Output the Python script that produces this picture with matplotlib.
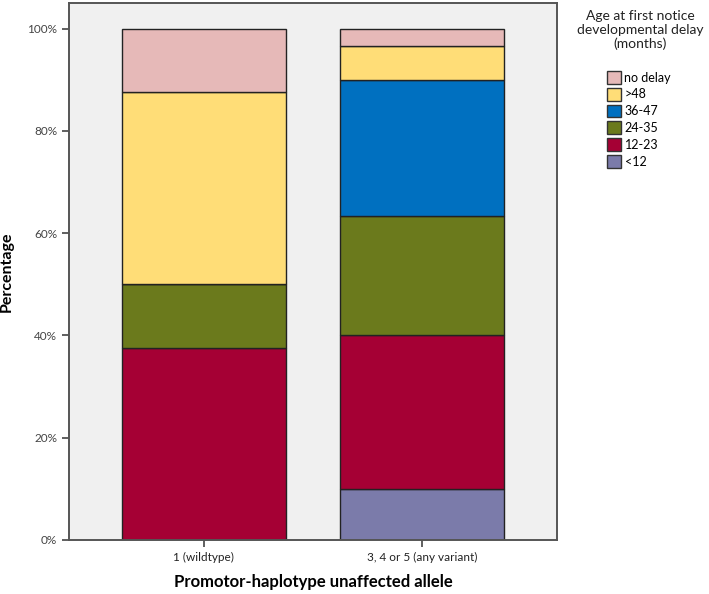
import matplotlib.pyplot as plt
from matplotlib.patches import Patch
import numpy as np

groups = ['1 (wildtype)', '3, 4 or 5 (any variant)']
ages = ['<12', '12-23', '24-35', '36-47', '>48', 'no delay']
# percentages per group, bottom to top
pct = {
    '<12':      [0.0, 10.0],
    '12-23':    [37.5, 30.0],
    '24-35':    [12.5, 23.33],
    '36-47':    [0.0, 26.67],
    '>48':      [37.5, 6.67],
    'no delay': [12.5, 3.33],
}
colors = ['#7B7BAA', '#A50034', '#6B7A1C', '#0070C0', '#FFDD77', '#E6B9B8']
yticks = [0, 20, 40, 60, 80, 100]

plt.rcParams['font.family'] = ['Lato', 'DejaVu Sans']

fig = plt.figure(figsize=(7.09, 5.94), dpi=100)
ax = fig.add_axes([69/709, 54/594, (557-69)/709, (591-54)/594])
ax.set_facecolor('#F0F0F0')

x = np.arange(len(groups))
bottom = np.zeros(len(groups))
for age, c in zip(ages, colors):
    v = np.array(pct[age])
    ax.bar(x, v, 0.75, bottom=bottom, color=c, edgecolor='#222222', linewidth=1.0)
    bottom += v

ax.set_xlim(-0.615, 1.615)
ax.set_ylim(0, 105)
ax.set_xticks(x)
ax.set_xticklabels(groups, fontsize=8.5, color='#222222')
ax.set_yticks(yticks)
ax.set_yticklabels([f'{t}%' for t in yticks], fontsize=8.5, color='#444444')
ax.tick_params(axis='both', direction='out', length=5, width=1.2, color='#444444')
for s in ax.spines.values():
    s.set_color('#555555')
    s.set_linewidth(1.4)

ax.set_xlabel('Promotor-haplotype unaffected allele', fontsize=12, fontweight='bold', labelpad=8)
ax.set_ylabel('Percentage', fontsize=11.5, fontweight='bold', labelpad=10)

fig.text(640/709, 1 - 10/594, 'Age at first notice\ndevelopmental delay\n(months)',
         ha='center', va='top', fontsize=10, color='#222222', linespacing=1.15)
handles = [Patch(facecolor=c, edgecolor='#333333', linewidth=1.0, label=a)
           for a, c in zip(ages, colors)][::-1]
fig.legend(handles=handles, loc='upper left', bbox_to_anchor=(602/709, 1 - 66/594),
           frameon=False, fontsize=9, handlelength=1.1, handleheight=1.2,
           labelspacing=0.32, handletextpad=0.3, borderaxespad=0)

plt.savefig('out.png', dpi=100)
